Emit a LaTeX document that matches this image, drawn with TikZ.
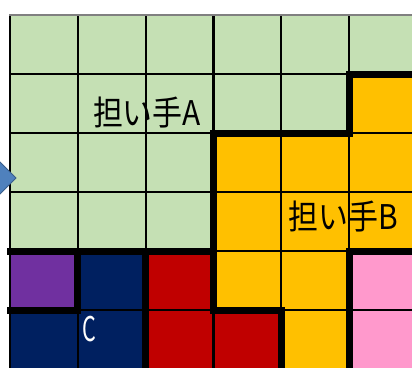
\documentclass[tikz,border=0pt]{standalone}
\usepackage{fontspec}
\newfontfamily\jp{Noto Sans CJK JP}
\definecolor{cG}{HTML}{C5E0B4}
\definecolor{cO}{HTML}{FFC000}
\definecolor{cP}{HTML}{7030A0}
\definecolor{cN}{HTML}{002060}
\definecolor{cR}{HTML}{C00000}
\definecolor{cK}{HTML}{FF99CC}
\definecolor{cArrow}{HTML}{4F81BD}
\definecolor{cArrowD}{HTML}{385D8A}
\begin{document}
\begin{tikzpicture}[x=1pt,y=-1pt,
  thinline/.style={line width=2.2pt,black},
  thickline/.style={line width=7pt,black,line cap=rect,line join=miter},
  label/.style={inner sep=0pt,font=\jp\fontsize{34}{34}\selectfont,xscale=0.88}]
\useasboundingbox (0,0) rectangle (412,367);
\clip (0,0) rectangle (412,367);
\fill[white] (0,0) rectangle (412,367);
% cell fills
\foreach \r/\lst in {0/{cG,cG,cG,cG,cG,cG},1/{cG,cG,cG,cG,cG,cO},2/{cG,cG,cG,cO,cO,cO},3/{cG,cG,cG,cO,cO,cO},4/{cP,cN,cR,cO,cO,cK},5/{cN,cN,cR,cR,cO,cK}}{
  \foreach \cc [count=\i from 0] in \lst {
    \fill[\cc] ({10+67.8*\i},{15+59*\r}) rectangle ++(67.8,59);
  }
}
% labels
\node[label] (tA) at (147,113) {担い手A};
\node[label] (tB) at (343,217) {担い手B};
\node[label,text=white,xscale=0.72] (tC) at (89.5,329) {C};
% thin grid lines
\foreach \i in {1,...,6} \draw[thinline] ({10+67.8*\i},15) -- ({10+67.8*\i},369);
\foreach \r in {1,...,6} \draw[thinline] (10,{15+59*\r}) -- (417,{15+59*\r});
\draw[line width=2pt,black] (10,15) -- (10,369);
\draw[line width=2pt,gray] (9,15) -- (417,15);
% region boundaries
\draw[thickline] (417,74) -| (349,133) -| (213.4,310) -| (281.2,369);
\draw[thickline] (10,251) -- (213.4,251);
\draw[thickline] (417,251) -| (349,369);
\draw[thickline] (10,310) -| (77.8,251);
\draw[thickline] (145.6,251) -- (145.6,369);
% arrow tip on the left
\fill[cArrow,draw=cArrowD,line width=1pt] (-2,160) -- (16,178) -- (-2,196) -- cycle;
\end{tikzpicture}
\end{document}
